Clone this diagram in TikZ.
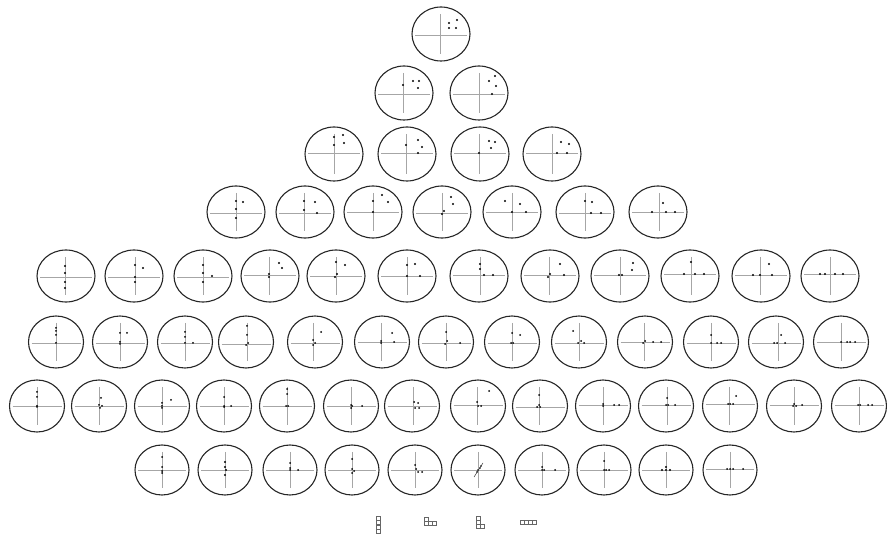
\documentclass[tikz,border=0pt]{standalone}
\usetikzlibrary{shapes.geometric}
\begin{document}
\begin{tikzpicture}[x=1pt,y=-1pt,
  cellbox/.style={ellipse,draw=black!85,line width=1.1pt,inner sep=0pt,outer sep=0pt},
  crossline/.style={draw=black!35,line width=0.55pt},
  dotc/.style={fill=black},
  tile/.style={draw=black!60,line width=0.4pt}]
\useasboundingbox (0,0) rectangle (887,534);
\newcommand{\cellE}[9]{%
  \node[cellbox,minimum width={2*#4pt},minimum height={2*#5pt}] (#1) at (#2,#3) {};
  \draw[crossline] ({#2-#4+3},#7) -- ({#2+#4-3},#7);
  \draw[crossline] (#6,{#3-#5+7}) -- (#6,{#3+#5-7});
  \foreach \dx/\dy in {#8} \fill[dotc] ({#6+\dx},{#7+\dy}) circle (#9pt);
}
% row 1
\cellE{c1}{441}{34}{29}{27}{440}{35}{9/-12,17/-15,9/-7,16/-7}{1.2}
% row 2
\cellE{c2a}{404}{93}{29}{27}{403}{94}{0/-9,10/-13,16/-13,15/-6}{1.2}
\cellE{c2b}{479}{93}{29}{27}{479}{94}{10/-13,16/-18,17/-8,13/0}{1.2}
% row 3
\cellE{c3a}{334}{154}{29}{27}{334}{153}{0/-16,9/-18,0/-8,10/-10}{1.2}
\cellE{c3b}{407}{154}{29}{27}{406}{153}{0/-8,12/-13,16/-6,12/0}{1.2}
\cellE{c3c}{480}{154}{29}{27}{479}{153}{10/-12,16/-11,12/-5,0/0}{1.2}
\cellE{c3d}{552}{154}{29}{27}{552}{153}{9/-11,17/-9,5/0,15/0}{1.2}
% row 4
\cellE{c4a}{236}{212}{29}{26}{236}{213}{0/-12,7/-11,0/-4,0/5}{1.1}
\cellE{c4b}{305}{212}{29}{26}{304}{213}{0/-12,11/-11,0/-3,13/0}{1.1}
\cellE{c4c}{373}{212}{29}{26}{373}{212}{0/-11,9/-17,15/-10,0/0}{1.1}
\cellE{c4d}{442}{212}{29}{26}{442}{213}{9/-16,11/-9,2/-2,0/1}{1.1}
\cellE{c4e}{512}{212}{29}{26}{512}{212}{-7/-11,8/-8,0/0,14/0}{1.1}
\cellE{c4f}{585}{212}{29}{26}{585}{213}{0/-12,7/-11,6/0,16/0}{1.1}
\cellE{c4g}{658}{212}{29}{26}{659}{212}{4/-9,-7/0,7/0,16/0}{1.1}
% row 5
\cellE{c5a}{66}{276}{29}{26}{65}{277}{0/-11,0/-4,0/5,0/11}{1.1}
\cellE{c5b}{134}{276}{29}{26}{135}{277}{0/-12,8/-9,0/0,0/5}{1.1}
\cellE{c5c}{203}{276}{29}{26}{203}{277}{0/-12,0/-4,9/-1,0/5}{1.1}
\cellE{c5d}{270}{276}{29}{26}{269}{275}{10/-12,13/-7,0/-1,0/2}{1.1}
\cellE{c5e}{336}{276}{29}{26}{336}{276}{0/-14,9/-11,1/-2,-1/1}{1.1}
\cellE{c5f}{407}{276}{29}{26}{407}{276}{0/-11,8/-12,0/0,13/0}{1.1}
\cellE{c5g}{479}{276}{29}{26}{480}{275}{0/-11,0/-6,4/0,13/0}{1.1}
\cellE{c5h}{550}{276}{29}{26}{549}{275}{11/-11,1/-1,-1/2,15/0}{1.1}
\cellE{c5i}{620}{276}{29}{26}{620}{275}{13/-12,12/-5,-1/0,2/0}{1.1}
\cellE{c5j}{690}{276}{29}{26}{691}{274}{0/-12,-7/0,4/0,13/0}{1.1}
\cellE{c5k}{761}{276}{29}{26}{760}{275}{9/-11,-7/0,0/0,12/0}{1.1}
\cellE{c5l}{830}{276}{29}{26}{830}{274}{-10/0,-5/0,5/0,13/0}{1.1}
% row 6
\cellE{c6a}{56}{342}{27.5}{26}{56}{343}{0/-15,0/-12,0/-8,0/0}{1.0}
\cellE{c6b}{120}{342}{27.5}{26}{120}{343}{0/-10,7/-10,0/-1,0/1}{1.0}
\cellE{c6c}{185}{342}{27.5}{26}{185}{343}{0/-11,0/-6,0/0,8/0}{1.0}
\cellE{c6d}{246}{342}{27.5}{26}{247}{344}{0/-18,0/-9,1/-1,-1/1}{1.0}
\cellE{c6e}{315}{342}{27.5}{26}{313}{343}{8/-11,0/-3,2/0,0/2}{1.0}
\cellE{c6f}{382}{342}{27.5}{26}{381}{342}{11/-9,0/-1,0/1,13/0}{1.0}
\cellE{c6g}{446}{342}{27.5}{26}{446}{343}{0/-11,1/-2,-1/1,14/0}{1.0}
\cellE{c6h}{512}{342}{27.5}{26}{512}{343}{0/-10,8/-8,-1/0,1/0}{1.0}
\cellE{c6i}{579}{342}{27.5}{26}{579}{343}{-6/-12,2/-2,-1/0,5/0}{1.0}
\cellE{c6j}{645}{342}{27.5}{26}{644}{342}{1/-1,-1/1,9/0,17/0}{1.0}
\cellE{c6k}{711}{342}{27.5}{26}{711}{343}{0/-8,0/0,6/0,10/0}{1.0}
\cellE{c6l}{776}{342}{27.5}{26}{778}{343}{3/-8,-4/0,-1/0,7/0}{1.0}
\cellE{c6m}{841}{342}{27.5}{26}{841}{342}{0/0,6/0,9/0,14/0}{1.0}
% row 7
\cellE{c7a}{37}{406}{27.5}{26}{37}{406}{0/-14,0/-9,0/0,0/1}{1.0}
\cellE{c7b}{99}{406}{27.5}{26}{99}{406}{2/-8,0/-1,1/2,3/0}{1.0}
\cellE{c7c}{162}{406}{27.5}{26}{162}{406}{0/-3,0/0,0/2,9/-6}{1.0}
\cellE{c7d}{224}{406}{27.5}{26}{224}{406}{0/-9,0/0,0/1,7/0}{1.0}
\cellE{c7e}{287}{406}{27.5}{26}{287}{406}{0/-17,0/-12,-1/0,1/0}{1.0}
\cellE{c7f}{351}{406}{27.5}{26}{351}{406}{0/-1,0/2,1/0,11/0}{1.0}
\cellE{c7g}{412}{406}{27.5}{26}{413}{406}{1/-4,5/-3,2/2,6/2}{1.0}
\cellE{c7h}{478}{406}{27.5}{26}{477}{405}{12/-14,0/-3,1/1,4/1}{1.0}
\cellE{c7i}{540}{406}{27.5}{26}{539}{407}{0/-12,0/-2,-2/0,1/0}{1.0}
\cellE{c7j}{603}{406}{27.5}{26}{603}{405}{0/-1,0/1,11/0,16/0}{1.0}
\cellE{c7k}{666}{406}{27.5}{26}{667}{405}{0/-7,-1/0,1/0,8/0}{1.0}
\cellE{c7l}{730}{406}{27.5}{26}{729}{404}{7/-8,-1/0,1/0,4/0}{1.0}
\cellE{c7m}{794}{406}{27.5}{26}{794}{405}{0/-1,-1/1,2/1,8/0}{1.0}
\cellE{c7n}{859}{406}{27.5}{26}{859}{405}{-1/0,1/0,9/0,13/0}{1.0}
% row 8
\cellE{c8a}{162}{470}{27}{25}{162}{470}{0/-13,0/-3,0/1,0/3}{1.0}
\cellE{c8b}{225}{470}{27}{25}{225}{470}{0/-8,0/-3,1/0,0/5}{1.1}
\cellE{c8c}{290}{470}{27}{25}{290}{470}{0/-7,0/-2,0/0,8/0}{1.0}
\cellE{c8d}{352}{470}{27}{25}{352}{470}{0/-11,0/-1,2/1,0/3}{1.0}
\cellE{c8e}{415}{470}{27}{25}{415}{470}{0/-5,1/-1,3/2,7/2}{1.0}
\cellE{c8f}{478}{470}{27}{25}{478}{470}{0/0,2/-2,-1/2,3/-4}{0.8}
\draw[black!80,line width=0.5pt] (474,477) -- (483,463);
\cellE{c8g}{542}{470}{27}{25}{542}{470}{0/-3,0/0,2/0,13/0}{1.0}
\cellE{c8h}{604}{470}{27}{25}{604}{470}{0/-9,0/0,2/0,5/0}{1.0}
\cellE{c8i}{666}{470}{27}{25}{666}{470}{-4/0,0/0,4/0,0/-3}{1.1}
\cellE{c8j}{730}{470}{27}{25}{730}{469}{-3/0,0/0,3/0,13/0}{1.0}
% bottom tiles
\foreach \x/\y in {376/516,376/520.5,376/525,376/529.5}
  \draw[tile] (\x,\y) rectangle ++(4,4);
\foreach \x/\y in {424/517,424/521,428/521,432/521}
  \draw[tile] (\x,\y) rectangle ++(4,4);
\foreach \x/\y in {476/516,476/520,476/524,480/524}
  \draw[tile] (\x,\y) rectangle ++(4,4);
\foreach \x/\y in {520/520,524/520,528/520,532/520}
  \draw[tile] (\x,\y) rectangle ++(4,4);
\end{tikzpicture}
\end{document}
